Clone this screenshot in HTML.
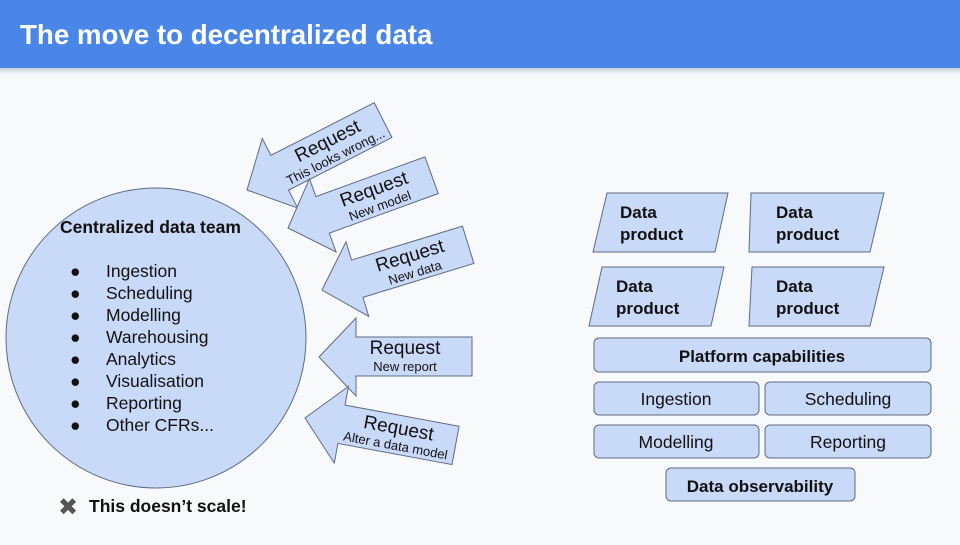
<!DOCTYPE html>
<html><head><style>
body{margin:0;width:960px;height:540px;overflow:hidden;background:#f8f9fa;font-family:"Liberation Sans",sans-serif}
</style></head><body>
<svg width="960" height="540" viewBox="0 0 960 540" xmlns="http://www.w3.org/2000/svg" font-family="Liberation Sans, sans-serif">
<defs>
<linearGradient id="sh" x1="0" y1="0" x2="0" y2="1"><stop offset="0" stop-color="#c5cfdf"/><stop offset="1" stop-color="#f8f9fa"/></linearGradient>
<path id="arr" d="M0,0 L37,-39 L37,-20 L153,-20 L153,19 L37,19 L37,39 Z" fill="#c9daf8" stroke="#5f6b80" stroke-width="1"/>
</defs>
<rect x="0" y="0" width="960" height="540" fill="#f8f9fa"/>
<rect x="0" y="68" width="960" height="6" fill="url(#sh)"/>
<rect x="0" y="0" width="960" height="68" fill="#4a86e8"/>
<text x="20" y="44" font-size="27.7" font-weight="bold" fill="#fff">The move to decentralized data</text>

<circle cx="156" cy="338" r="150" fill="#c9daf8" stroke="#5f6b80" stroke-width="1"/>
<text x="60" y="233" font-size="17.5" font-weight="bold" fill="#111">Centralized data team</text>
<g font-size="17.5" fill="#111">
<text x="70" y="277">●</text><text x="106" y="277">Ingestion</text>
<text x="70" y="299">●</text><text x="106" y="299">Scheduling</text>
<text x="70" y="321">●</text><text x="106" y="321">Modelling</text>
<text x="70" y="343">●</text><text x="106" y="343">Warehousing</text>
<text x="70" y="365">●</text><text x="106" y="365">Analytics</text>
<text x="70" y="387">●</text><text x="106" y="387">Visualisation</text>
<text x="70" y="409">●</text><text x="106" y="409">Reporting</text>
<text x="70" y="431">●</text><text x="106" y="431">Other CFRs...</text>
</g>
<text x="58" y="515" font-size="24" fill="#555">✖</text>
<text x="89" y="512" font-size="17.5" font-weight="bold" fill="#111">This doesn’t scale!</text>

<g transform="translate(247,190) rotate(-27)"><use href="#arr"/>
<text x="94" y="-1" font-size="19" text-anchor="middle" fill="#111">Request</text>
<text x="94" y="15" font-size="13" text-anchor="middle" fill="#111">This looks wrong...</text></g>
<g transform="translate(288,228) rotate(-20)"><use href="#arr"/>
<text x="94" y="-1" font-size="19" text-anchor="middle" fill="#111">Request</text>
<text x="94" y="15" font-size="13" text-anchor="middle" fill="#111">New model</text></g>
<g transform="translate(322,290) rotate(-17)"><use href="#arr"/>
<text x="94" y="-1" font-size="19" text-anchor="middle" fill="#111">Request</text>
<text x="94" y="15" font-size="13" text-anchor="middle" fill="#111">New data</text></g>
<g transform="translate(319,357)"><use href="#arr"/>
<text x="86" y="-3" font-size="19" text-anchor="middle" fill="#111">Request</text>
<text x="86" y="14" font-size="13" text-anchor="middle" fill="#111">New report</text></g>
<g transform="translate(305,418) rotate(10.5)"><use href="#arr"/>
<text x="94" y="-1" font-size="19" text-anchor="middle" fill="#111">Request</text>
<text x="94" y="15" font-size="13" text-anchor="middle" fill="#111">Alter a data model</text></g>

<g fill="#c9daf8" stroke="#5f6b80" stroke-width="1">
<polygon points="607,193 728,193 715,252 593,252"/>
<polygon points="751,193 884,193 870,252 749,252"/>
<polygon points="602,267 724,267 711,326 589,326"/>
<polygon points="752,267 884,267 870,326 749,326"/>
<rect x="594" y="338" width="337" height="34" rx="5"/>
<rect x="594" y="382" width="165" height="33" rx="5"/>
<rect x="765" y="382" width="166" height="33" rx="5"/>
<rect x="594" y="425" width="165" height="33" rx="5"/>
<rect x="765" y="425" width="166" height="33" rx="5"/>
<rect x="666" y="468" width="189" height="33" rx="5"/>
</g>
<g font-size="17" font-weight="bold" fill="#111">
<text x="620" y="218">Data</text><text x="620" y="240">product</text>
<text x="776" y="218">Data</text><text x="776" y="240">product</text>
<text x="616" y="292">Data</text><text x="616" y="314">product</text>
<text x="776" y="292">Data</text><text x="776" y="314">product</text>
<text x="762" y="362" text-anchor="middle">Platform capabilities</text>
<text x="760" y="492" text-anchor="middle">Data observability</text>
</g>
<g font-size="17.5" fill="#111" text-anchor="middle">
<text x="676" y="405">Ingestion</text>
<text x="848" y="405">Scheduling</text>
<text x="676" y="448">Modelling</text>
<text x="848" y="448">Reporting</text>
</g>
</svg>
</body></html>
